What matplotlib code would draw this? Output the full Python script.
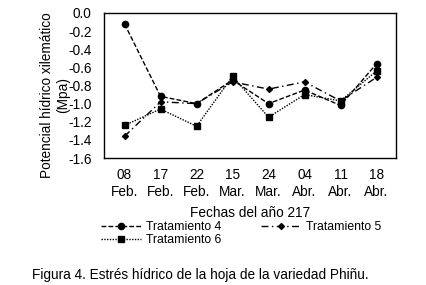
import matplotlib
matplotlib.use("Agg")
import matplotlib.pyplot as plt

plt.rcParams['font.family'] = ['Liberation Sans', 'DejaVu Sans']

dates = ["08\nFeb.", "17\nFeb.", "22\nFeb.", "15\nMar.", "24\nMar.", "04\nAbr.", "11\nAbr.", "18\nAbr."]
t4 = [-0.12, -0.92, -1.00, -0.74, -1.00, -0.85, -1.02, -0.56]
t5 = [-1.36, -0.98, -1.00, -0.76, -0.84, -0.76, -0.97, -0.71]
t6 = [-1.24, -1.06, -1.25, -0.70, -1.15, -0.90, -0.97, -0.64]
yticks = [0.0, -0.2, -0.4, -0.6, -0.8, -1.0, -1.2, -1.4, -1.6]

fig = plt.figure(figsize=(4.26, 2.85), dpi=100)
ax = fig.add_axes([104/426, 1-158/285, 292/426, 145/285])
x = list(range(len(dates)))
fs = 9.8
lfs = 8.8
l4, = ax.plot(x, t4, color='black', lw=1, ls=(0, (3.5, 1.5)), marker='o', ms=4.5, label='Tratamiento 4')
l5, = ax.plot(x, t5, color='black', lw=1, ls=(0, (5, 2.5, 1, 2.5)), marker='D', ms=3, label='Tratamiento 5')
l6, = ax.plot(x, t6, color='black', lw=1, ls=(0, (1, 1)), marker='s', ms=5, label='Tratamiento 6')

ax.set_xlim(-0.57, 7.54)
ax.set_ylim(-1.6, 0.0)
ax.set_yticks(yticks)
ax.set_yticklabels([f"{v:.1f}" for v in yticks], fontsize=fs)
ax.set_xticks(x)
ax.set_xticklabels(dates, fontsize=fs, linespacing=1.3)
ax.tick_params(length=0, pad=9)
ax.tick_params(axis='x', pad=7)
for s in ax.spines.values():
    s.set_linewidth(1)
ax.set_ylabel("Potencial hídrico xilemático\n(Mpa)", fontsize=fs, linespacing=1.15)
ax.yaxis.set_label_coords((70-104)/292, (158-95)/145)
ax.set_xlabel("Fechas del año 217", fontsize=fs, labelpad=5)

fig.legend([l4, l6, l5], ['Tratamiento 4', 'Tratamiento 6', 'Tratamiento 5'],
           ncol=2, frameon=False, fontsize=lfs, loc='upper left',
           bbox_to_anchor=(101/426, 1-221/285), handlelength=3.3, handletextpad=0.4,
           columnspacing=3.2, labelspacing=0.1, borderaxespad=0, borderpad=0)

fig.text(32/426, 1-275/285, "Figura 4. Estrés hídrico de la hoja de la variedad Phiñu.",
         fontsize=fs, va='center', ha='left')

fig.savefig("out.png", dpi=100)
